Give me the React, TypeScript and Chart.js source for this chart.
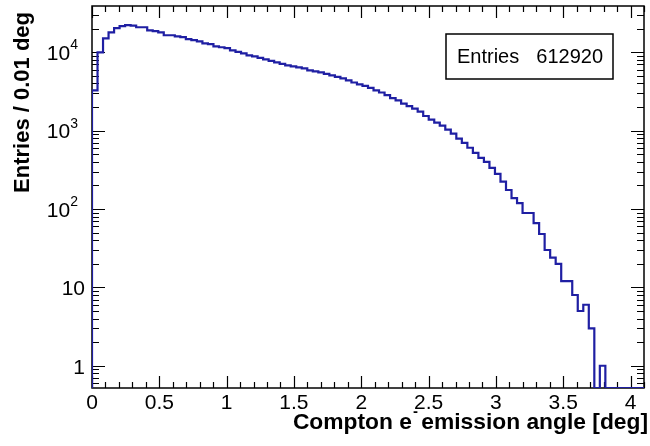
import React, { useEffect, useRef } from "react";
import { Chart, registerables } from "chart.js";

Chart.register(...registerables);

// Histogram: 100 bins of 0.041 deg from 0 to 4.1 deg
const BIN_WIDTH = 0.041;
const X_MIN = 0;
const X_MAX = 4.1;
const Y_MIN = 0.52;
const Y_MAX = 39000;

const counts = [
  3260, 10000, 15100, 18000, 20300, 21600, 22200, 21900, 20900, 20900,
  19100, 18600, 18000, 16500, 16500, 16000, 15600, 14700, 14300, 13800,
  13000, 12700, 11900, 11600, 11300, 10600, 10150, 9700, 9150, 8890,
  8500, 8130, 7780, 7440, 7120, 6810, 6620, 6430, 6240, 5880,
  5710, 5540, 5300, 5070, 4850, 4640, 4380, 4120, 3890, 3720,
  3510, 3260, 3070, 2850, 2610, 2430, 2220, 2060, 1910, 1750,
  1540, 1380, 1270, 1160, 1030, 915, 790, 700, 605, 522,
  450, 400, 336, 281, 224, 175, 138, 119, 89, 89,
  66, 48, 30, 24, 20, 12, 12, 8, 5, 6,
  3, 0, 1, 0, 0, 0, 0, 0, 0, 0,
];

const xTickValues = [0, 0.5, 1, 1.5, 2, 2.5, 3, 3.5, 4];
const xTickLabels = ["0", "0.5", "1", "1.5", "2", "2.5", "3", "3.5", "4"];
const yDecadeExponents = [0, 1, 2, 3, 4];

const X_TITLE_MAIN = "Compton e";
const X_TITLE_SUP = "-";
const X_TITLE_REST = " emission angle [deg]";
const Y_TITLE = "Entries / 0.01 deg";
const STATS_LABEL = "Entries";
const STATS_VALUE = "612920";

const FONT = "'Liberation Sans', Arial, Helvetica, sans-serif";
const LINE_COLOR = "#1f1fa3";

const rootStyle = {
  id: "rootStyle",
  beforeDatasetsDraw(chart: any) {
    const { ctx, chartArea: a, scales } = chart;
    const x = scales.x;
    const y = scales.y;
    ctx.save();
    ctx.strokeStyle = "#000";
    ctx.lineWidth = 1.5;
    ctx.strokeRect(a.left, a.top, a.right - a.left, a.bottom - a.top);
    ctx.lineWidth = 1.2;
    ctx.beginPath();
    for (let i = 0; i <= 45; i++) {
      const v = i * 0.1;
      if (v > X_MAX + 1e-9) break;
      const px = Math.round(x.getPixelForValue(v)) + 0.5;
      const len = i % 5 === 0 ? 12 : 6;
      ctx.moveTo(px, a.bottom);
      ctx.lineTo(px, a.bottom - len);
      ctx.moveTo(px, a.top);
      ctx.lineTo(px, a.top + len);
    }
    for (let e = -1; e <= 5; e++) {
      for (let m = 1; m <= 9; m++) {
        const v = m * Math.pow(10, e);
        if (v < Y_MIN || v > Y_MAX) continue;
        const py = Math.round(y.getPixelForValue(v)) + 0.5;
        const len = m === 1 ? 13 : 7;
        ctx.moveTo(a.left, py);
        ctx.lineTo(a.left + len, py);
        ctx.moveTo(a.right, py);
        ctx.lineTo(a.right - len, py);
      }
    }
    ctx.stroke();
    ctx.restore();
  },
  afterDraw(chart: any) {
    const { ctx, chartArea: a, scales } = chart;
    const x = scales.x;
    const y = scales.y;
    ctx.save();
    ctx.fillStyle = "#000";
    ctx.font = `21px ${FONT}`;
    ctx.textAlign = "center";
    ctx.textBaseline = "middle";
    xTickValues.forEach((v, i) => {
      ctx.fillText(xTickLabels[i], x.getPixelForValue(v), a.bottom + 15);
    });
    yDecadeExponents.forEach((e) => {
      const py = y.getPixelForValue(Math.pow(10, e)) + 2;
      ctx.textBaseline = "middle";
      if (e === 0 || e === 1) {
        ctx.font = `21px ${FONT}`;
        ctx.textAlign = "right";
        ctx.fillText(e === 0 ? "1" : "10", a.left - 7, py);
      } else {
        ctx.font = `14px ${FONT}`;
        const supW = ctx.measureText(String(e)).width;
        ctx.textAlign = "right";
        const right = a.left - 14;
        ctx.fillText(String(e), right, py - 9);
        ctx.font = `21px ${FONT}`;
        ctx.fillText("10", right - supW, py);
      }
    });
    // x title
    const big = `bold 22.8px ${FONT}`;
    const small = `bold 15px ${FONT}`;
    ctx.font = big;
    ctx.textBaseline = "alphabetic";
    ctx.textAlign = "left";
    const wMain = ctx.measureText(X_TITLE_MAIN).width;
    const wRest = ctx.measureText(X_TITLE_REST).width;
    ctx.font = small;
    const wSup = ctx.measureText(X_TITLE_SUP).width;
    const xRight = 648;
    const x0 = xRight - (wMain + wSup * 0.6 + wRest);
    const baseY = 429;
    ctx.font = big;
    ctx.fillText(X_TITLE_MAIN, x0, baseY);
    ctx.font = small;
    ctx.fillText(X_TITLE_SUP, x0 + wMain + 1, baseY - 13);
    ctx.font = big;
    ctx.fillText(X_TITLE_REST, x0 + wMain + wSup * 0.6, baseY);
    // y title
    ctx.save();
    ctx.translate(23, 12);
    ctx.rotate(-Math.PI / 2);
    ctx.font = `bold 22px ${FONT}`;
    ctx.textAlign = "right";
    ctx.textBaseline = "middle";
    ctx.fillText(Y_TITLE, 0, 0);
    ctx.restore();
    // stats box
    const bx = 446, by = 34, bw = 167, bh = 45;
    ctx.fillStyle = "#fff";
    ctx.fillRect(bx, by, bw, bh);
    ctx.strokeStyle = "#000";
    ctx.lineWidth = 1.5;
    ctx.strokeRect(bx, by, bw, bh);
    ctx.fillStyle = "#000";
    ctx.font = `20px ${FONT}`;
    ctx.textBaseline = "middle";
    ctx.textAlign = "left";
    ctx.fillText(STATS_LABEL, bx + 11, by + bh / 2 + 1);
    ctx.textAlign = "right";
    ctx.fillText(STATS_VALUE, bx + bw - 10, by + bh / 2 + 1);
    ctx.restore();
  },
};

export default function App() {
  const ref = useRef<HTMLCanvasElement | null>(null);

  useEffect(() => {
    document.body.style.margin = "0";
    const canvas = ref.current;
    if (!canvas) return;
    const points: { x: number; y: number }[] = [{ x: X_MIN, y: Y_MIN }];
    counts.forEach((c, i) => {
      points.push({ x: X_MIN + i * BIN_WIDTH, y: c > 0 ? c : Y_MIN });
    });
    const last = counts[counts.length - 1];
    points.push({ x: X_MIN + counts.length * BIN_WIDTH, y: last > 0 ? last : Y_MIN });

    const chart = new Chart(canvas, {
      type: "line",
      data: {
        datasets: [
          {
            data: points,
            stepped: true,
            borderColor: LINE_COLOR,
            borderWidth: 2.2,
            pointRadius: 0,
            fill: false,
            tension: 0,
          },
        ],
      },
      options: {
        responsive: false,
        animation: false,
        devicePixelRatio: 1,
        layout: { padding: { left: 92, top: 6, right: 6, bottom: 58 } },
        plugins: { legend: { display: false }, tooltip: { enabled: false } },
        scales: {
          x: {
            type: "linear",
            min: X_MIN,
            max: X_MAX,
            grid: { display: false },
            border: { display: false },
            ticks: { display: false },
            afterFit: (s: any) => {
              s.height = 0;
            },
          },
          y: {
            type: "logarithmic",
            min: Y_MIN,
            max: Y_MAX,
            grid: { display: false },
            border: { display: false },
            ticks: { display: false },
            afterFit: (s: any) => {
              s.width = 0;
            },
          },
        },
      } as any,
      plugins: [rootStyle],
    });
    return () => chart.destroy();
  }, []);

  return (
    <div style={{ position: "absolute", left: 0, top: 0, width: 650, height: 446, background: "#fff" }}>
      <canvas ref={ref} width={650} height={446} />
    </div>
  );
}
